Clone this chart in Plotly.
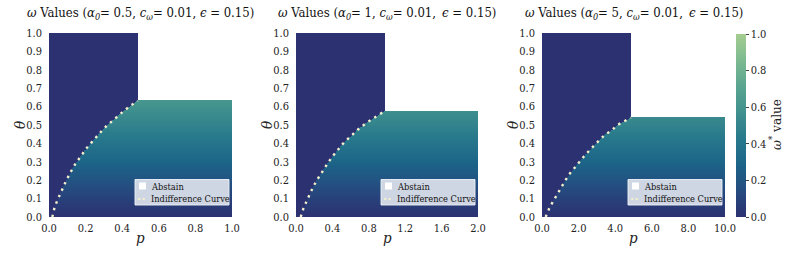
import numpy as np
import plotly.graph_objects as go

# ---------------- data ----------------
alpha0_labels = ["0.5", "1", "5"]
eps_sep = ["", "&#8201;", "&#8201;"]
p_max = [1.0, 2.0, 10.0]
x_tick_vals = [
    [0.0, 0.2, 0.4, 0.6, 0.8, 1.0],
    [0.0, 0.4, 0.8, 1.2, 1.6, 2.0],
    [0.0, 2.0, 4.0, 6.0, 8.0, 10.0],
]
y_tick_vals = [0.0, 0.1, 0.2, 0.3, 0.4, 0.5, 0.6, 0.7, 0.8, 0.9, 1.0]

abstain_p = [0.485, 0.975, 4.86]
theta_cap = [0.632, 0.576, 0.54]

curve1_p = [0.018, 0.03, 0.044, 0.06, 0.077, 0.095, 0.115, 0.135, 0.157, 0.181, 0.207,
            0.234, 0.262, 0.289, 0.318, 0.349, 0.38, 0.413, 0.446, 0.479, 0.485]
curve1_t = [0.0, 0.05, 0.087, 0.125, 0.166, 0.2, 0.238, 0.275, 0.307, 0.342, 0.376,
            0.407, 0.44, 0.469, 0.498, 0.526, 0.555, 0.58, 0.605, 0.628, 0.632]
curve2_p = [0.052, 0.08, 0.113, 0.146, 0.183, 0.223, 0.267, 0.311, 0.359, 0.407, 0.457,
            0.512, 0.571, 0.633, 0.696, 0.762, 0.831, 0.901, 0.975]
curve2_t = [0.0, 0.044, 0.082, 0.12, 0.158, 0.195, 0.231, 0.265, 0.3, 0.333, 0.365,
            0.396, 0.425, 0.455, 0.482, 0.507, 0.531, 0.553, 0.576]
curve3_p = [0.2, 0.44, 0.64, 0.84, 1.06, 1.28, 1.52, 1.75, 2.03, 2.3, 2.57, 2.85,
            3.16, 3.47, 3.8, 4.12, 4.48, 4.86]
curve3_t = [0.0, 0.057, 0.09, 0.127, 0.163, 0.2, 0.236, 0.265, 0.3, 0.33, 0.36, 0.39,
            0.42, 0.45, 0.47, 0.5, 0.52, 0.54]
curves_p = [curve1_p, curve2_p, curve3_p]
curves_t = [curve1_t, curve2_t, curve3_t]

theta_levels = [0.0, 0.1, 0.2, 0.3, 0.4, 0.5, 0.6, 0.7]
omega_levels = [0.0, 0.09, 0.19, 0.29, 0.39, 0.49, 0.58, 0.67]

legend_labels = ["Abstain", "Indifference Curve"]
colorbar_ticks = [0.0, 0.2, 0.4, 0.6, 0.8, 1.0]

crest_r = [
    [0.0, "#2c3172"], [1 / 7, "#254b7f"], [2 / 7, "#1c6488"], [3 / 7, "#287a8c"],
    [4 / 7, "#40908e"], [5 / 7, "#59a590"], [6 / 7, "#7dba91"], [1.0, "#a5cd90"],
]
CURVE_COLOR = "#f4efcc"

W, H = 793, 255
panel_px = [(49, 232), (296, 478), (542, 725)]
top_px, bot_px = 33, 217
FONT = "DejaVu Serif Condensed, DejaVu Serif"
TXT = "#222"
S_TITLE, S_TICK, S_LEG, S_AX, S_CBT = 13, 11, 9.2, 15, 13.5


def px(xp):
    return xp / W


def py(yp):
    return (H - yp) / H


fig = go.Figure()

ny, nx = 240, 320
for k in range(3):
    pm = p_max[k]
    yc = (np.arange(ny) + 0.5) / ny
    xc = (np.arange(nx) + 0.5) / nx * pm
    bound = np.interp(yc, curves_t[k], curves_p[k])
    om = np.interp(yc, theta_levels, omega_levels)
    X, Y = np.meshgrid(xc, yc)
    B = bound[:, None] * np.ones_like(X)
    O = om[:, None] * np.ones_like(X)
    Z = np.where(X >= B, O, 0.0)
    above = Y > theta_cap[k]
    Z = np.where(above & (X >= abstain_p[k]), np.nan, np.where(above, 0.0, Z))

    xa = "x" if k == 0 else f"x{k+1}"
    ya = "y" if k == 0 else f"y{k+1}"
    fig.add_trace(go.Heatmap(
        x=xc, y=yc, z=Z, coloraxis="coloraxis", xaxis=xa, yaxis=ya,
        hoverinfo="skip", showlegend=False,
    ))
    fig.add_trace(go.Scatter(
        x=curves_p[k], y=curves_t[k], mode="lines", name=legend_labels[1],
        line=dict(color=CURVE_COLOR, width=2.4, dash="2.4px,4.6px"),
        xaxis=xa, yaxis=ya, showlegend=False, hoverinfo="skip",
    ))

layout = dict(
    width=W, height=H, margin=dict(l=0, r=0, t=0, b=0, autoexpand=False),
    paper_bgcolor="white", plot_bgcolor="white", showlegend=False,
    font=dict(family=FONT, size=S_TICK, color=TXT),
    coloraxis=dict(
        cmin=0, cmax=1, colorscale=crest_r,
        colorbar=dict(
            x=px(736), xanchor="left", xref="paper", xpad=0, ypad=0,
            y=py(bot_px), yanchor="bottom",
            len=(bot_px - 34) / H, lenmode="fraction",
            thickness=10, outlinewidth=0,
            tickvals=colorbar_ticks, tickformat=".1f",
            ticks="outside", ticklen=3, tickcolor="#444",
            tickfont=dict(family=FONT, size=S_TICK, color=TXT),
        ),
    ),
)

annotations = []
shapes = []
for k in range(3):
    x0, x1 = panel_px[k]
    sfx = "" if k == 0 else str(k + 1)
    layout["xaxis" + sfx] = dict(
        domain=[px(x0), px(x1)], range=[0, p_max[k]], anchor="y" + sfx,
        tickvals=x_tick_vals[k], tickformat=".1f", showgrid=False, zeroline=False,
        showline=False, ticks="", ticklabelstandoff=3,
        tickfont=dict(family=FONT, size=S_TICK, color=TXT),
    )
    layout["yaxis" + sfx] = dict(
        domain=[py(bot_px), py(top_px)], range=[0, 1], anchor="x" + sfx,
        tickvals=y_tick_vals, tickformat=".1f", showgrid=False, zeroline=False,
        showline=False, ticks="", ticklabelstandoff=6,
        tickfont=dict(family=FONT, size=S_TICK, color=TXT),
    )
    title_txt = (f"<i>ω</i> Values (<i>α</i><sub><i>0</i></sub>= {alpha0_labels[k]}, "
                 f"<i>c</i><sub><i>ω</i></sub>= 0.01, {eps_sep[k]}<i>ϵ</i> = 0.15)")
    annotations.append(dict(
        text=title_txt, x=px((x0 + x1) / 2), y=py(13), xref="paper", yref="paper",
        xanchor="center", yanchor="middle", showarrow=False,
        font=dict(family=FONT, size=S_TITLE, color="#111"),
    ))
    annotations.append(dict(
        text="<i>p</i>", x=px((x0 + x1) / 2), y=py(238), xref="paper", yref="paper",
        xanchor="center", yanchor="middle", showarrow=False,
        font=dict(family=FONT, size=S_AX, color=TXT),
    ))
    annotations.append(dict(
        text="<i>θ</i>", x=px(x0 - 29), y=py(125), xref="paper", yref="paper",
        xanchor="center", yanchor="middle", showarrow=False, textangle=-90,
        font=dict(family=FONT, size=S_AX, color=TXT),
    ))
    lx0, lx1 = x1 - 97, x1 - 3
    ly0, ly1 = 179.5, 205
    shapes.append(dict(
        type="rect", xref="paper", yref="paper",
        x0=px(lx0), x1=px(lx1), y0=py(ly1), y1=py(ly0),
        fillcolor="rgba(220,225,235,0.93)", line=dict(color="rgba(240,243,248,0.9)", width=1),
        layer="above",
    ))
    shapes.append(dict(
        type="rect", xref="paper", yref="paper",
        x0=px(lx0 + 4), x1=px(lx0 + 11), y0=py(189.5), y1=py(182.5),
        fillcolor="white", line=dict(width=0), layer="above",
    ))
    for dx in (4.3, 8.7):
        shapes.append(dict(
            type="circle", xref="paper", yref="paper",
            x0=px(lx0 + dx - 1.2), x1=px(lx0 + dx + 1.2), y0=py(200.2), y1=py(197.8),
            fillcolor=CURVE_COLOR, line=dict(width=0), layer="above",
        ))
    annotations.append(dict(
        text=legend_labels[0], x=px(lx0 + 14), y=py(186), xref="paper", yref="paper",
        xanchor="left", yanchor="middle", showarrow=False,
        font=dict(family=FONT, size=S_LEG, color="#111"),
    ))
    annotations.append(dict(
        text=legend_labels[1], x=px(lx0 + 14), y=py(198.5), xref="paper", yref="paper",
        xanchor="left", yanchor="middle", showarrow=False,
        font=dict(family=FONT, size=S_LEG, color="#111"),
    ))

annotations.append(dict(
    text="<i>ω</i><sup>*</sup> value", x=px(775), y=py(125), xref="paper", yref="paper",
    xanchor="center", yanchor="middle", showarrow=False, textangle=-90,
    font=dict(family=FONT, size=S_CBT, color=TXT),
))

layout["annotations"] = annotations
layout["shapes"] = shapes
fig.update_layout(**layout)

fig.write_html("out.html", config={"displayModeBar": False},
               post_script="document.body.style.margin='0px';")
